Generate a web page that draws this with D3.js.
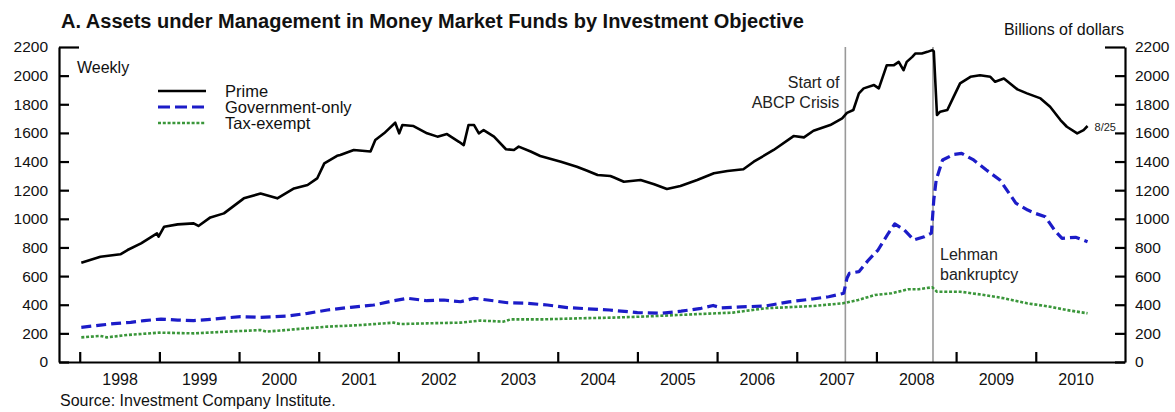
<!DOCTYPE html>
<html>
<head>
<meta charset="utf-8">
<script src="https://cdn.jsdelivr.net/npm/d3@7"></script>
<style>
  html, body { margin: 0; padding: 0; background: #fff; }
  svg { display: block; font-family: "Liberation Sans", Arial, sans-serif; }
</style>
</head>
<body>
<svg id="chart" width="1175" height="412"></svg>
<script>
// ---- Data (decimal years, billions of dollars) ----
const primeYears = [1998.02,1998.26,1998.51,1998.60,1998.77,1998.97,1998.99,1999.06,1999.23,1999.43,1999.49,1999.64,1999.81,2000.06,2000.27,2000.48,2000.69,2000.86,2000.98,2001.07,2001.23,2001.27,2001.44,2001.65,2001.71,2001.82,2001.96,2002.01,2002.05,2002.19,2002.36,2002.49,2002.61,2002.76,2002.82,2002.88,2002.95,2003.01,2003.07,2003.20,2003.35,2003.45,2003.51,2003.66,2003.78,2004.04,2004.24,2004.37,2004.50,2004.66,2004.70,2004.83,2005.04,2005.21,2005.37,2005.54,2005.75,2005.96,2006.13,2006.33,2006.46,2006.71,2006.96,2007.09,2007.21,2007.42,2007.57,2007.63,2007.71,2007.78,2007.84,2007.97,2008.03,2008.13,2008.22,2008.28,2008.34,2008.38,2008.45,2008.49,2008.57,2008.64,2008.70,2008.72,2008.76,2008.80,2008.89,2008.97,2009.05,2009.18,2009.30,2009.43,2009.49,2009.60,2009.77,2009.89,2010.06,2010.18,2010.31,2010.39,2010.52,2010.60,2010.65];
const primeValues = [693,735,752,782,828,898,875,945,961,968,950,1010,1038,1143,1177,1143,1212,1236,1282,1387,1440,1446,1481,1470,1550,1597,1671,1597,1655,1648,1597,1574,1592,1538,1515,1655,1655,1597,1620,1574,1486,1481,1504,1470,1439,1399,1364,1336,1306,1299,1290,1259,1271,1241,1208,1229,1271,1318,1334,1346,1399,1481,1578,1569,1615,1655,1702,1740,1760,1876,1911,1934,1911,2073,2073,2096,2038,2096,2131,2155,2155,2166,2178,2170,1725,1748,1760,1853,1946,1992,2003,1992,1957,1980,1904,1876,1841,1783,1690,1643,1597,1620,1648];

const govYears = [1998.02,1998.26,1998.47,1998.64,1998.81,1999.02,1999.23,1999.43,1999.64,2000.02,2000.27,2000.61,2000.86,2001.11,2001.40,2001.69,2001.94,2002.11,2002.36,2002.57,2002.78,2002.95,2003.12,2003.37,2003.62,2003.87,2004.12,2004.65,2005.00,2005.30,2005.55,2005.80,2005.95,2006.05,2006.30,2006.60,2006.90,2007.20,2007.40,2007.59,2007.63,2007.66,2007.78,2007.90,2008.02,2008.15,2008.23,2008.35,2008.47,2008.60,2008.69,2008.72,2008.75,2008.83,2008.97,2009.07,2009.22,2009.38,2009.55,2009.75,2009.90,2010.00,2010.12,2010.25,2010.33,2010.50,2010.65];
const govValues = [242,258,270,277,289,300,293,289,298,317,312,321,340,363,382,398,428,445,428,433,421,445,433,414,410,398,380,363,345,340,355,375,395,378,385,391,420,440,456,480,585,619,631,712,782,899,964,922,852,875,900,1131,1271,1411,1450,1457,1411,1341,1271,1110,1061,1037,1014,910,864,871,840];

const taxYears = [1998.02,1998.26,1998.34,1998.60,1999.00,1999.43,1999.85,2000.27,2000.35,2000.69,2001.11,2001.53,2001.94,2002.02,2002.36,2002.78,2003.03,2003.32,2003.41,2003.83,2004.25,2004.70,2005.10,2005.50,2005.90,2006.20,2006.60,2007.20,2007.58,2007.77,2007.98,2008.19,2008.40,2008.53,2008.70,2008.76,2009.05,2009.35,2009.60,2009.89,2010.18,2010.39,2010.65];
const taxValues = [172,182,172,189,205,200,212,223,212,228,247,258,275,265,270,275,289,282,298,298,305,310,318,328,338,345,375,391,410,433,468,480,508,508,522,491,491,468,445,410,386,363,340];

const seriesNames = ["Prime", "Government-only", "Tax-exempt"];
const yearTicks = [1998,1999,2000,2001,2002,2003,2004,2005,2006,2007,2008,2009,2010];
const yTicks = [0,200,400,600,800,1000,1200,1400,1600,1800,2000,2200];
const events = [{year: 2007.61, label: ["Start of", "ABCP Crisis"]}, {year: 2008.71, label: ["Lehman", "bankruptcy"]}];
const titleText = "A. Assets under Management in Money Market Funds by Investment Objective";
const unitsText = "Billions of dollars";
const freqText = "Weekly";
const sourceText = "Source: Investment Company Institute.";
const endLabel = "8/25";

// ---- Layout ----
const svg = d3.select("#chart");
const L = 59, R = 1125, T = 47, B = 362;
const x = d3.scaleLinear().domain([1997.74, 2011.12]).range([L, R]);
const y = d3.scaleLinear().domain([0, 2200]).range([B, T]);

// title & texts
svg.append("text").attr("x", 61).attr("y", 28).attr("font-size", 20).attr("font-weight", "bold").attr("fill", "#111").text(titleText);
svg.append("text").attr("x", R - 1).attr("y", 35).attr("text-anchor", "end").attr("font-size", 16).attr("fill", "#111").text(unitsText);
svg.append("text").attr("x", 77).attr("y", 73).attr("font-size", 16).attr("fill", "#111").text(freqText);
svg.append("text").attr("x", 60).attr("y", 406).attr("font-size", 16).attr("fill", "#111").text(sourceText);

// event lines
events.forEach((e, i) => {
  svg.append("line").attr("x1", x(e.year)).attr("x2", x(e.year)).attr("y1", T).attr("y2", B)
    .attr("stroke", "#999").attr("stroke-width", 1.6);
});
const ev0 = svg.append("text").attr("text-anchor", "end").attr("font-size", 16).attr("fill", "#222");
ev0.append("tspan").attr("x", x(events[0].year) - 6).attr("y", 88).text(events[0].label[0]);
ev0.append("tspan").attr("x", x(events[0].year) - 6).attr("y", 108).text(events[0].label[1]);
const ev1 = svg.append("text").attr("font-size", 16).attr("fill", "#222");
ev1.append("tspan").attr("x", x(events[1].year) + 7).attr("y", 260).text(events[1].label[0]);
ev1.append("tspan").attr("x", x(events[1].year) + 7).attr("y", 280).text(events[1].label[1]);

// axes
const axisStyle = g => {
  g.select(".domain").attr("stroke", "#000").attr("stroke-width", 2.2);
  g.selectAll(".tick line").attr("stroke", "#000").attr("stroke-width", 2.2);
  g.selectAll(".tick text").attr("fill", "#111").attr("font-size", 15.5).attr("font-family", "Liberation Sans, Arial, sans-serif");
};
const yl = svg.append("g").attr("transform", `translate(${L},0)`)
  .call(d3.axisLeft(y).tickValues(yTicks).tickSizeInner(-10).tickSizeOuter(0).tickPadding(11).tickFormat(d3.format("d")))
  .call(axisStyle);
yl.selectAll(".tick").filter(d => d === 2200).select("line").attr("x2", 20);
const yr = svg.append("g").attr("transform", `translate(${R},0)`)
  .call(d3.axisRight(y).tickValues(yTicks).tickSizeInner(-10).tickSizeOuter(0).tickPadding(10).tickFormat(d3.format("d")))
  .call(axisStyle);
yr.selectAll(".tick").filter(d => d === 2200).select("line").attr("x2", -20);

const xb = svg.append("g").attr("transform", `translate(0,${B})`)
  .call(d3.axisBottom(x).tickValues(yearTicks).tickSizeInner(-10).tickSizeOuter(0).tickFormat(""))
  .call(axisStyle);
const xl = svg.append("g").attr("transform", `translate(0,${B})`)
  .call(d3.axisBottom(x).tickValues(yearTicks.map(v => v + 0.5)).tickSize(0).tickPadding(10).tickFormat(d => String(Math.floor(d))))
  .call(axisStyle);
xl.select(".domain").remove();
xl.selectAll(".tick text").attr("dy", "0.71em").attr("y", 12).attr("font-size", 16);

// lines
const line = d3.line().x(d => x(d[0])).y(d => y(d[1]));
const styles = [
  {color: "#000", width: 2.6, dash: null},
  {color: "#1c1cc8", width: 3.2, dash: "10,5"},
  {color: "#3a963a", width: 2.6, dash: "3,1.8"}
];
const seriesData = [
  d3.zip(primeYears, primeValues),
  d3.zip(govYears, govValues),
  d3.zip(taxYears, taxValues)
];
[2, 1, 0].forEach(i => {
  svg.append("path").datum(seriesData[i]).attr("d", line)
    .attr("fill", "none").attr("stroke", styles[i].color).attr("stroke-width", styles[i].width)
    .attr("stroke-dasharray", styles[i].dash).attr("stroke-linejoin", "round");
});

// end label
svg.append("text").attr("x", x(primeYears[primeYears.length - 1]) + 7).attr("y", y(primeValues[primeValues.length - 1]) + 5)
  .attr("font-size", 11).attr("fill", "#222").text(endLabel);

// legend
const lg = svg.append("g");
seriesNames.forEach((n, i) => {
  const yy = 91 + i * 16;
  lg.append("line").attr("x1", 158).attr("x2", 206).attr("y1", yy).attr("y2", yy)
    .attr("stroke", styles[i].color).attr("stroke-width", styles[i].width).attr("stroke-dasharray", i === 1 ? "12,5" : styles[i].dash);
  lg.append("text").attr("x", 225).attr("y", yy + 6).attr("font-size", 16.5).attr("fill", "#111").text(n);
});
</script>
</body>
</html>
